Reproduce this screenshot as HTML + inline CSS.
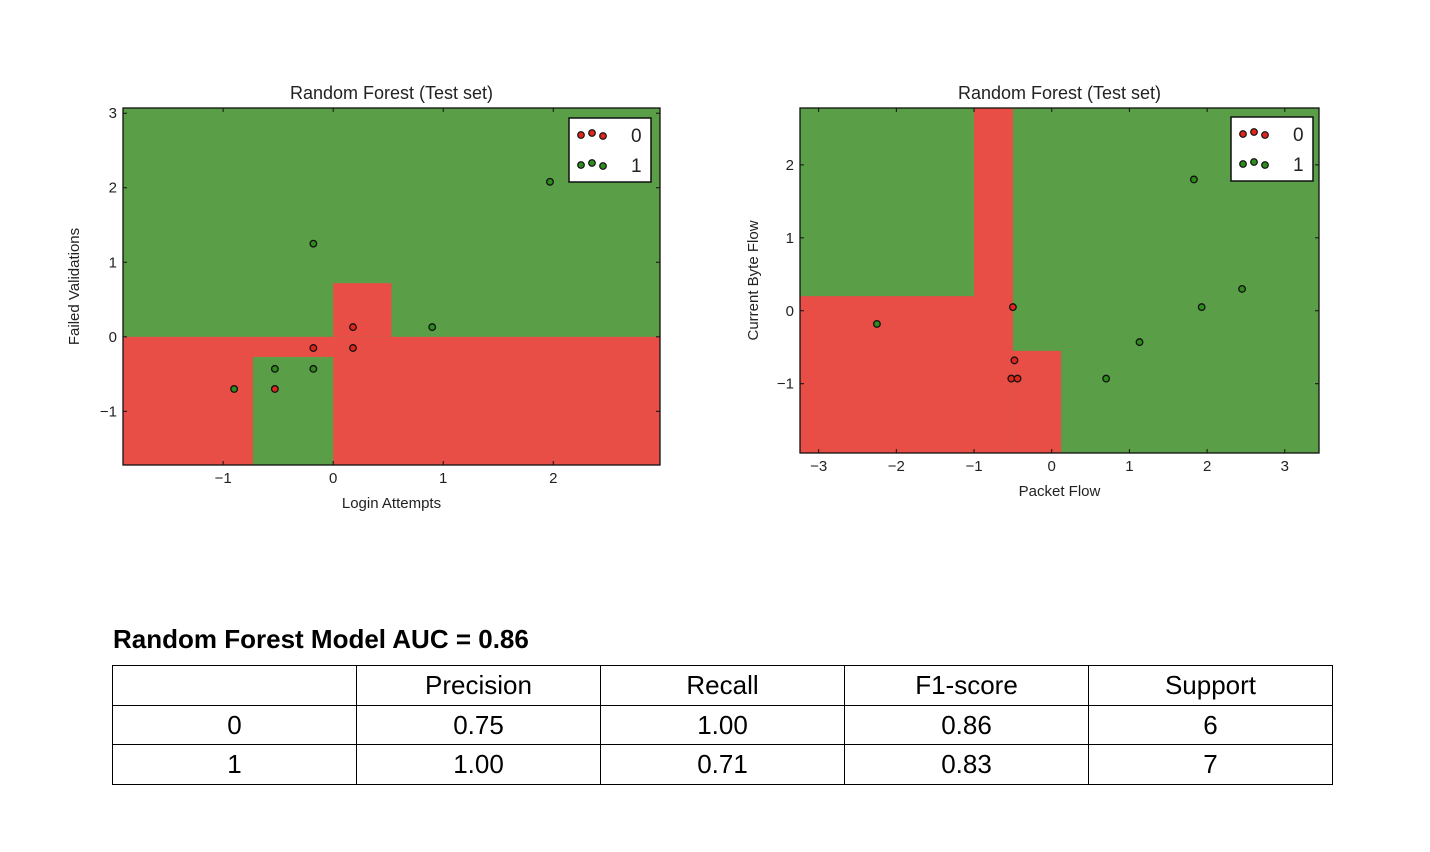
<!DOCTYPE html>
<html><head><meta charset="utf-8"><style>
body{margin:0;background:#fff;width:1430px;height:852px;overflow:hidden;font-family:"Liberation Sans",sans-serif}
svg text{font-family:"Liberation Sans",sans-serif;fill:#222}
table{position:absolute;left:112px;top:665px;border-collapse:collapse;font-family:"Liberation Sans",sans-serif}
td{border:1.5px solid #000;width:243px;height:38.5px;padding:0;text-align:center;font-size:26px;line-height:38px}
#ttl{position:absolute;left:113px;top:624px;font-weight:bold;font-size:26px;font-family:"Liberation Sans",sans-serif}
</style></head><body>
<svg id="svg" width="1430" height="620" style="position:absolute;left:0;top:0"></svg>
<div id="ttl">Random Forest Model AUC = 0.86</div>
<table>
<tr><td></td><td>Precision</td><td>Recall</td><td>F1-score</td><td>Support</td></tr>
<tr><td>0</td><td>0.75</td><td>1.00</td><td>0.86</td><td>6</td></tr>
<tr><td>1</td><td>1.00</td><td>0.71</td><td>0.83</td><td>7</td></tr>
</table>
<script>
// Left chart data (rects: x0,x1,y0,y1)
const leftRed = [[-1.91,2.97,-1.72,0],[0,0.53,0,0.72]];
const leftGreenIn = [[-0.73,0,-1.72,-0.27]];
const leftPtsX = [-0.9,-0.53,-0.18,-0.18,0.9,1.97,-0.53,-0.18,0.18,0.18];
const leftPtsY = [-0.7,-0.43,-0.43,1.25,0.13,2.08,-0.7,-0.15,-0.15,0.13];
const leftPtsC = [1,1,1,1,1,1,0,0,0,0];
const leftXTicks = [-1,0,1,2];
const leftYTicks = [-1,0,1,2,3];
// Right chart data
const rightRed = [[-1,-0.5,-1.95,2.78],[-3.24,-1,-1.95,0.2],[-0.5,0.12,-1.95,-0.55]];
const rightPtsX = [-0.5,-0.48,-0.52,-0.44,-2.25,0.7,1.13,1.83,1.93,2.45];
const rightPtsY = [0.05,-0.68,-0.93,-0.93,-0.18,-0.93,-0.43,1.8,0.05,0.3];
const rightPtsC = [0,0,0,0,1,1,1,1,1,1];
const rightXTicks = [-3,-2,-1,0,1,2,3];
const rightYTicks = [-1,0,1,2];

const NS="http://www.w3.org/2000/svg", svg=document.getElementById('svg');
const G="#5a9e48",R="#e84e45";
function el(t,a,p){const e=document.createElementNS(NS,t);for(const k in a)e.setAttribute(k,a[k]);(p||svg).appendChild(e);return e;}
function chart(o){
  const sx=v=>o.px0+(v-o.xmin)/(o.xmax-o.xmin)*(o.px1-o.px0);
  const sy=v=>o.py1-(v-o.ymin)/(o.ymax-o.ymin)*(o.py1-o.py0);
  const g=el('g',{});
  
  
  const bg=el('rect',{x:o.px0,y:o.py0,width:o.px1-o.px0,height:o.py1-o.py0,fill:G},g);
  
  
  o.red.forEach(r=>{const e=el('rect',{x:sx(r[0]),y:sy(r[3]),width:sx(r[1])-sx(r[0]),height:sy(r[2])-sy(r[3]),fill:R},g);
    
    });
  (o.green||[]).forEach(r=>{const e=el('rect',{x:sx(r[0]),y:sy(r[3]),width:sx(r[1])-sx(r[0]),height:sy(r[2])-sy(r[3]),fill:G},g);
    
    });
  o.px.forEach((x,i)=>{const c=el('circle',{cx:sx(x),cy:sy(o.py[i]),r:3.3,fill:o.pc[i]?"#2e8b1e":"#e0261c",stroke:"#111","stroke-width":1.3},g);
    
    });
  el('rect',{x:o.px0,y:o.py0,width:o.px1-o.px0,height:o.py1-o.py0,fill:"none",stroke:"#111","stroke-width":1.3},g);
  o.xt.forEach(t=>{const x=sx(t);el('line',{x1:x,x2:x,y1:o.py1,y2:o.py1-4,stroke:"#111"},g);el('line',{x1:x,x2:x,y1:o.py0,y2:o.py0+4,stroke:"#111"},g);
    const tx=el('text',{x:x,y:o.py1+18,"text-anchor":"middle","font-size":15},g);tx.textContent=t<0?'\u2212'+(-t):t;
    
    });
  o.yt.forEach(t=>{const y=sy(t);el('line',{x1:o.px0,x2:o.px0+4,y1:y,y2:y,stroke:"#111"},g);el('line',{x1:o.px1,x2:o.px1-4,y1:y,y2:y,stroke:"#111"},g);
    const tx=el('text',{x:o.px0-6,y:y+5,"text-anchor":"end","font-size":15},g);tx.textContent=t<0?'\u2212'+(-t):t;
    
    });
  const ti=el('text',{x:(o.px0+o.px1)/2,y:o.py0-9,"text-anchor":"middle","font-size":18},g);ti.textContent="Random Forest (Test set)";
  
  
  const xl=el('text',{x:(o.px0+o.px1)/2,y:o.py1+43,"text-anchor":"middle","font-size":15},g);xl.textContent=o.xlabel;
  
  
  const yl=el('text',{x:0,y:0,"text-anchor":"middle","font-size":15,transform:`translate(${o.ylx},${(o.py0+o.py1)/2}) rotate(-90)`},g);yl.textContent=o.ylabel;
  
  
  const lg=el('g',{},g);
  
  
  el('rect',{x:o.lx,y:o.ly,width:82,height:64,fill:"#fff",stroke:"#111","stroke-width":1.5},lg);
  [["#e0261c","0"],["#2e8b1e","1"]].forEach((c,i)=>{const yy=o.ly+17+i*30;
    [[12,0],[23,-2],[34,1]].forEach(d=>el('circle',{cx:o.lx+d[0],cy:yy+d[1],r:3.3,fill:c[0],stroke:"#111","stroke-width":1.2},lg));
    const t=el('text',{x:o.lx+62,y:yy+7,"font-size":19},lg);t.textContent=c[1];
    
    });
}
chart({name:'left-chart',px0:123,px1:660,py0:108,py1:465,xmin:-1.91,xmax:2.97,ymin:-1.72,ymax:3.07,red:leftRed,green:leftGreenIn,px:leftPtsX,py:leftPtsY,pc:leftPtsC,xt:leftXTicks,yt:leftYTicks,xlabel:"Login Attempts",ylabel:"Failed Validations",ylx:79,lx:569,ly:118});
chart({name:'right-chart',px0:800,px1:1319,py0:108,py1:453,xmin:-3.24,xmax:3.44,ymin:-1.95,ymax:2.78,red:rightRed,px:rightPtsX,py:rightPtsY,pc:rightPtsC,xt:rightXTicks,yt:rightYTicks,xlabel:"Packet Flow",ylabel:"Current Byte Flow",ylx:758,lx:1231,ly:117});
</script>
</body></html>
